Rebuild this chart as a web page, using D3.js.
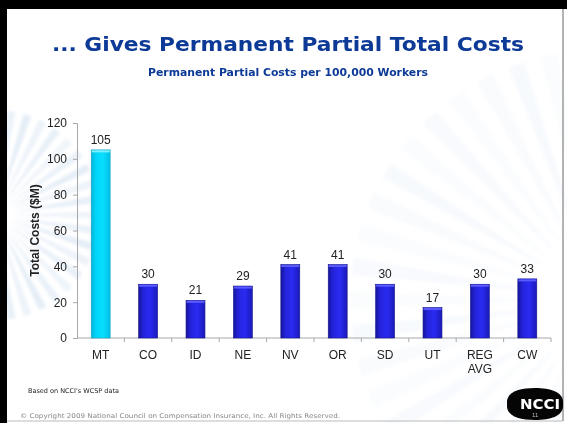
<!DOCTYPE html>
<html>
<head>
<meta charset="utf-8">
<script src="https://cdn.jsdelivr.net/npm/d3@7"></script>
<style>
  body { margin: 0; background: #fff; }
  svg { display: block; }
</style>
</head>
<body>
<script>
var w = 567;
var h = 423;

// chart data
var states = ["MT", "CO", "ID", "NE", "NV", "OR", "SD", "UT", "REG AVG", "CW"];
var costs = [105, 30, 21, 29, 41, 41, 30, 17, 30, 33];
var yTicks = [0, 20, 40, 60, 80, 100, 120];
var highlight = "MT";

var titleText = "... Gives Permanent Partial Total Costs";
var subtitleText = "Permanent Partial Costs per 100,000 Workers";
var yTitle = "Total Costs ($M)";
var noteText = "Based on NCCI's WCSP data";
var copyText = "\u00a9 Copyright 2009 National Council on Compensation Insurance, Inc. All Rights Reserved.";

var plot = {left: 77, right: 551, top: 123, bottom: 338};

var svg = d3.select("body")
    .append("svg")
    .attr("width", w)
    .attr("height", h);

var defs = svg.append("defs");

// bar gradients
var g1 = defs.append("linearGradient").attr("id", "blueBar");
g1.append("stop").attr("offset", "0%").attr("stop-color", "#15159a");
g1.append("stop").attr("offset", "25%").attr("stop-color", "#2424dc");
g1.append("stop").attr("offset", "60%").attr("stop-color", "#2a2af2");
g1.append("stop").attr("offset", "100%").attr("stop-color", "#1a1ab8");

var g2 = defs.append("linearGradient").attr("id", "cyanBar");
g2.append("stop").attr("offset", "0%").attr("stop-color", "#00b4d8");
g2.append("stop").attr("offset", "25%").attr("stop-color", "#00d6fa");
g2.append("stop").attr("offset", "60%").attr("stop-color", "#08defe");
g2.append("stop").attr("offset", "100%").attr("stop-color", "#00c0e4");

defs.append("filter").attr("id", "soft")
    .attr("x", "-20%").attr("y", "-20%").attr("width", "140%").attr("height", "140%")
    .append("feGaussianBlur").attr("stdDeviation", 1.6);

// background
svg.append("rect").attr("width", w).attr("height", h).attr("fill", "#fff");

//faint sunburst decoration
function burst(cx, cy, r0, r1, n, op) {
    var gb = svg.append("g")
        .attr("transform", "translate(" + cx + "," + cy + ")")
        .attr("filter", "url(#soft)");
    d3.range(n).forEach(function (i) {
        var a = i * 2 * Math.PI / n;
        var da = Math.PI / n * 0.5;
        var p = d3.path();
        p.moveTo(r0 * Math.cos(a - da * 0.3), r0 * Math.sin(a - da * 0.3));
        p.lineTo(r1 * Math.cos(a - da), r1 * Math.sin(a - da));
        p.lineTo(r1 * Math.cos(a + da), r1 * Math.sin(a + da));
        p.lineTo(r0 * Math.cos(a + da * 0.3), r0 * Math.sin(a + da * 0.3));
        p.closePath();
        gb.append("path").attr("d", p.toString())
            .attr("fill", "#a9c8e6")
            .attr("opacity", op * (0.6 + 0.4 * ((i * 7) % 5) / 4));
    });
}
burst(-5, 215, 20, 105, 40, 0.3);
burst(600, 300, 70, 250, 46, 0.09);

// slide frame
svg.append("rect").attr("x", 0).attr("y", 0).attr("width", 7).attr("height", h).attr("fill", "#000");
svg.append("rect").attr("x", 0).attr("y", 0).attr("width", w).attr("height", 9).attr("fill", "#000");
svg.append("line").attr("x1", 563).attr("x2", 563).attr("y1", 9).attr("y2", 421)
    .attr("stroke", "#9a9a9a").attr("stroke-width", 1.5);
svg.append("line").attr("x1", 7).attr("x2", 563).attr("y1", 421).attr("y2", 421)
    .attr("stroke", "#bbb").attr("stroke-width", 1);

// titles
svg.append("text")
    .attr("x", 288).attr("y", 51)
    .attr("text-anchor", "middle")
    .attr("font-family", "DejaVu Sans, Verdana, sans-serif")
    .attr("font-weight", "bold")
    .attr("font-size", "19px")
    .attr("textLength", 472)
    .attr("lengthAdjust", "spacingAndGlyphs")
    .attr("fill", "#0c3a96")
    .text(titleText);

svg.append("text")
    .attr("x", 288).attr("y", 76)
    .attr("text-anchor", "middle")
    .attr("font-family", "DejaVu Sans, Verdana, sans-serif")
    .attr("font-weight", "bold")
    .attr("font-size", "10px")
    .attr("textLength", 280)
    .attr("lengthAdjust", "spacingAndGlyphs")
    .attr("fill", "#0c3a96")
    .text(subtitleText);

// scales
var xScale = d3.scaleBand()
    .domain(states)
    .range([plot.left, plot.right])
    .paddingInner(0.6)
    .paddingOuter(0.3);

var yScale = d3.scaleLinear()
    .domain([0, 120])
    .range([plot.bottom, plot.top]);

// y axis
var yaxis = d3.axisLeft(yScale)
    .tickValues(yTicks)
    .tickSize(4)
    .tickPadding(6);

var yg = svg.append("g")
    .attr("transform", "translate(" + plot.left + ",0)")
    .call(yaxis);
yg.select(".domain").attr("stroke", "#a8a8a8");
yg.selectAll(".tick line").attr("stroke", "#a8a8a8");
yg.selectAll(".tick text")
    .attr("font-family", "Liberation Sans, Arial, sans-serif")
    .attr("font-size", "12px")
    .attr("fill", "#222");

// x axis baseline with ticks between categories
var step = xScale.step();
var xg = svg.append("g");
xg.append("line")
    .attr("x1", plot.left).attr("x2", plot.right)
    .attr("y1", plot.bottom).attr("y2", plot.bottom)
    .attr("stroke", "#a8a8a8");
xg.selectAll("line.sep")
    .data(states)
    .enter()
    .append("line")
    .attr("class", "sep")
    .attr("x1", function (d) { return xScale(d) - xScale.paddingInner() * step / 2 + step; })
    .attr("x2", function (d) { return xScale(d) - xScale.paddingInner() * step / 2 + step; })
    .attr("y1", plot.bottom)
    .attr("y2", plot.bottom + 4)
    .attr("stroke", "#a8a8a8");

// category labels
var catLabels = xg.selectAll("text.cat")
    .data(states)
    .enter()
    .append("text")
    .attr("class", "cat")
    .attr("x", function (d) { return xScale(d) + xScale.bandwidth() / 2; })
    .attr("y", plot.bottom + 21)
    .attr("text-anchor", "middle")
    .attr("font-family", "Liberation Sans, Arial, sans-serif")
    .attr("font-size", "12px")
    .attr("fill", "#222");
catLabels.each(function (d) {
    var parts = d.split(" ");
    var t = d3.select(this);
    parts.forEach(function (p, i) {
        t.append("tspan")
            .attr("x", xScale(d) + xScale.bandwidth() / 2)
            .attr("dy", i === 0 ? 0 : 14)
            .text(p);
    });
});

// y axis title
svg.append("text")
    .attr("transform", "translate(39," + ((plot.top + plot.bottom) / 2) + ") rotate(-90)")
    .attr("text-anchor", "middle")
    .attr("font-family", "Liberation Sans, Arial, sans-serif")
    .attr("font-weight", "bold")
    .attr("font-size", "12px")
    .attr("fill", "#222")
    .text(yTitle);

// bars
svg.selectAll("rect.bar")
    .data(costs)
    .enter()
    .append("rect")
    .attr("class", "bar")
    .attr("x", function (d, i) { return xScale(states[i]); })
    .attr("y", function (d) { return yScale(d); })
    .attr("width", xScale.bandwidth())
    .attr("height", function (d) { return plot.bottom - yScale(d); })
    .attr("fill", function (d, i) { return states[i] === highlight ? "url(#cyanBar)" : "url(#blueBar)"; })
    .attr("stroke", function (d, i) { return states[i] === highlight ? "#1aa6c4" : "#16168c"; })
    .attr("stroke-width", 0.6);

// bright top edge on each bar
svg.selectAll("rect.cap")
    .data(costs)
    .enter()
    .append("rect")
    .attr("class", "cap")
    .attr("x", function (d, i) { return xScale(states[i]) + 0.5; })
    .attr("y", function (d) { return yScale(d) + 0.5; })
    .attr("width", xScale.bandwidth() - 1)
    .attr("height", 2)
    .attr("fill", function (d, i) { return states[i] === highlight ? "#7ef0ff" : "#5a5aff"; });

// value labels
svg.selectAll("text.val")
    .data(costs)
    .enter()
    .append("text")
    .attr("class", "val")
    .attr("x", function (d, i) { return xScale(states[i]) + xScale.bandwidth() / 2; })
    .attr("y", function (d) { return yScale(d) - 6; })
    .attr("text-anchor", "middle")
    .attr("font-family", "Liberation Sans, Arial, sans-serif")
    .attr("font-size", "12px")
    .attr("fill", "#222")
    .text(function (d) { return d; });

// footnotes
svg.append("text")
    .attr("x", 28).attr("y", 393)
    .attr("font-family", "DejaVu Sans, Verdana, sans-serif")
    .attr("font-size", "6.5px")
    .attr("fill", "#222")
    .text(noteText);

svg.append("text")
    .attr("x", 20).attr("y", 418)
    .attr("font-family", "DejaVu Sans, Verdana, sans-serif")
    .attr("font-size", "6.5px")
    .attr("textLength", 320)
    .attr("lengthAdjust", "spacingAndGlyphs")
    .attr("fill", "#888")
    .text(copyText);

// NCCI logo
var logo = svg.append("g").attr("transform", "translate(535,404)");
logo.append("path")
    .attr("d", "M-28,-3 C-27,-12 -16,-16 0,-16 C16,-16 27,-12 28,-3 L28,3 C27,12 16,16 0,16 C-16,16 -27,12 -28,3 Z")
    .attr("fill", "#050505");
logo.append("text")
    .attr("x", 5).attr("y", 5)
    .attr("text-anchor", "middle")
    .attr("font-family", "DejaVu Sans, sans-serif")
    .attr("font-weight", "bold")
    .attr("font-size", "14px")
    .attr("textLength", 40)
    .attr("lengthAdjust", "spacingAndGlyphs")
    .attr("fill", "#fff")
    .text("NCCI");
logo.append("text")
    .attr("x", -3).attr("y", 13)
    .attr("font-family", "Liberation Sans, Arial, sans-serif")
    .attr("font-size", "6px")
    .attr("fill", "#bbb")
    .text("11");
</script>
</body>
</html>
